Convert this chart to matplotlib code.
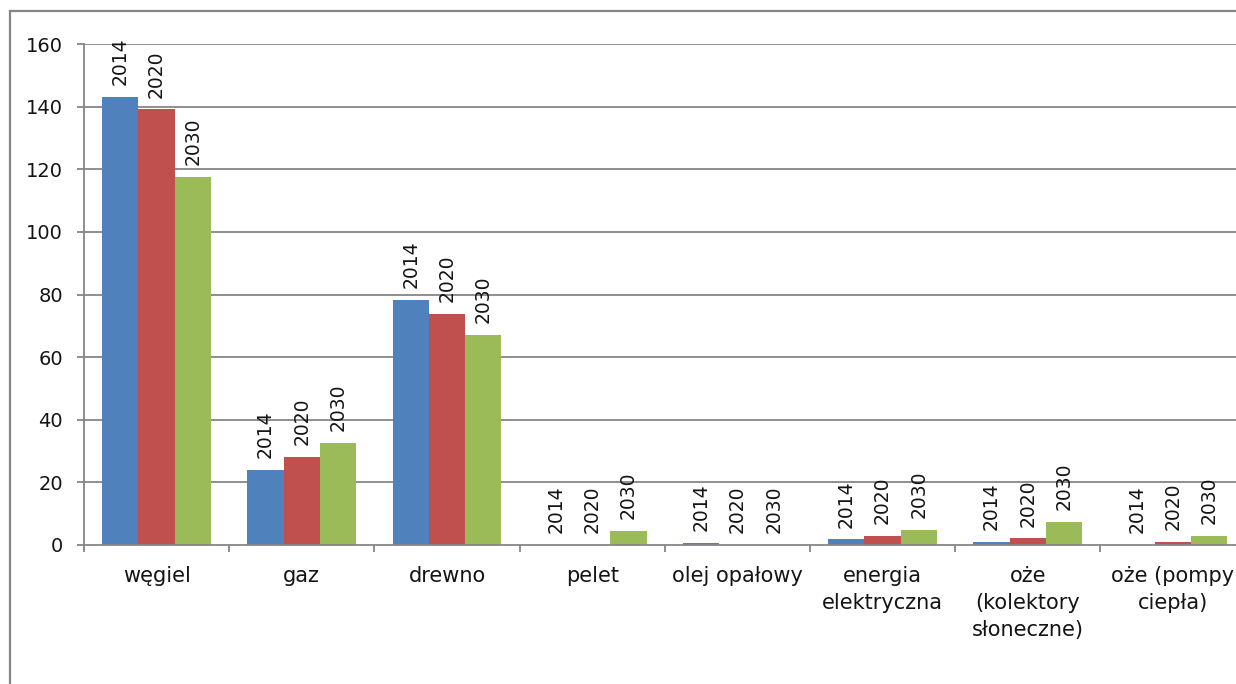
import matplotlib
matplotlib.use("Agg")
import matplotlib.pyplot as plt
from matplotlib.lines import Line2D
import numpy as np

# Heating sources and their values per year
categories = ["węgiel", "gaz", "drewno", "pelet", "olej opałowy",
              "energia\nelektryczna", "oże\n(kolektory\nsłoneczne)",
              "oże (pompy\nciepła)"]
series_names = ["2014", "2020", "2030"]
values_2014 = [143.2, 23.9, 78.2, 0.0, 0.6, 1.8, 1.0, 0.0]
values_2020 = [139.1, 28.1, 73.7, 0.0, 0.0, 2.9, 2.1, 1.0]
values_2030 = [117.6, 32.6, 67.0, 4.5, 0.0, 4.8, 7.3, 2.8]
y_ticks = [0, 20, 40, 60, 80, 100, 120, 140, 160]

colors = ["#4F81BD", "#C0504D", "#9BBB59"]
grid_color = "#868686"
text_color = "#141414"

W, H = 1236, 684
fig = plt.figure(figsize=(W / 100, H / 100), dpi=100)

# plot area (it runs slightly past the right edge of the figure)
ax_left, ax_right = 84, 1245.6
ax_top, ax_bottom = 44, 545
ax = fig.add_axes([ax_left / W, 1 - ax_bottom / H,
                   (ax_right - ax_left) / W, (ax_bottom - ax_top) / H])
ax.set_xlim(0, len(categories))
ax.set_ylim(0, 160)

bar_w = 0.25
x = np.arange(len(categories)) + 0.5
for k, (name, vals) in enumerate(zip(series_names,
                                     [values_2014, values_2020, values_2030])):
    pos = x + (k - 1) * bar_w
    ax.bar(pos, vals, width=bar_w, color=colors[k], zorder=3, linewidth=0)
    for px, v in zip(pos, vals):
        ax.annotate(name, (px, v), xytext=(0, 8.5), textcoords="offset points",
                    rotation=90, ha="center", va="bottom",
                    fontsize=13.5, color=text_color, family="DejaVu Sans",
                    zorder=4)

# gridlines
for t in y_ticks[1:]:
    ax.axhline(t, color=grid_color, linewidth=1.3, zorder=1)

for side in ["top", "right"]:
    ax.spines[side].set_visible(False)
for side in ["left", "bottom"]:
    ax.spines[side].set_color(grid_color)
    ax.spines[side].set_linewidth(1.3)
    ax.spines[side].set_zorder(5)

ax.set_yticks(y_ticks)
ax.set_yticklabels([str(t) for t in y_ticks])
ax.tick_params(axis="y", direction="out", length=5, width=1.3,
               color=grid_color, labelsize=14, labelcolor=text_color, pad=10)

ax.set_xticks(x)
ax.set_xticklabels(categories, linespacing=1.45)
ax.set_xticks(np.arange(len(categories) + 1), minor=True)
ax.tick_params(axis="x", which="major", length=0, pad=15,
               labelsize=15, labelcolor=text_color)
ax.tick_params(axis="x", which="minor", direction="out", length=5,
               width=1.3, color=grid_color)

# chart frame
bx, by = 10 / W, 1 - 11 / H
fig.add_artist(Line2D([bx, bx], [0, by], transform=fig.transFigure,
                      color=grid_color, linewidth=1.6))
fig.add_artist(Line2D([bx, 1], [by, by], transform=fig.transFigure,
                      color=grid_color, linewidth=1.6))

fig.savefig("out.png", dpi=100)
